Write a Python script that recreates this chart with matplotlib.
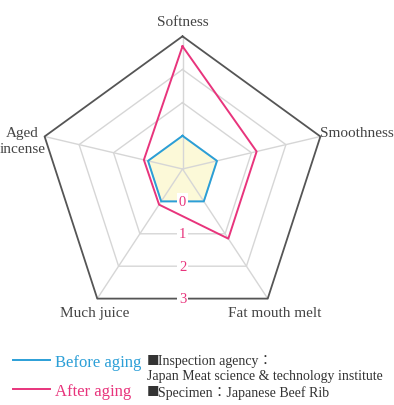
import numpy as np
import matplotlib.pyplot as plt

categories = ["Softness", "Smoothness", "Fat mouth melt", "Much juice", "Aged\nincense"]
before_aging = [0, 0, 0, 0, 0]
after_aging = [2.7, 1.15, 1.15, 0.1, 0.12]
levels = [0, 1, 2, 3]
level_labels = ["0", "1", "2", "3"]
series_names = ["Before aging", "After aging"]
notes = ["■Inspection agency：",
         "Japan Meat science & technology institute",
         "■Specimen：Japanese Beef Rib"]

blue = "#2b9fd7"
pink = "#e8347c"
serif = ["Liberation Serif", "Noto Sans CJK JP"]

v_min, v_max = -1, 3
angles = np.deg2rad(90 - 72 * np.arange(5))
# spokes meet a little above the middle of the outer pentagon
hub = np.array([0.0, 0.085])


def to_xy(values, ang=angles):
    s = (np.asarray(values, float) - v_min) / (v_max - v_min)
    x = hub[0] + s * (np.cos(ang) - hub[0])
    y = hub[1] + s * (np.sin(ang) - hub[1])
    return x, y


def closed(x, y):
    return np.append(x, x[0]), np.append(y, y[0])


fig = plt.figure(figsize=(3.94, 4.06), dpi=100)
ax = fig.add_axes([0, 0, 1, 1])
ax.set_xlim(-182.5 / 145, (394 - 182.5) / 145)
ax.set_ylim(-(406 - 182.3) / 145, 182.3 / 145)
ax.axis("off")

# grid
for lv in levels:
    x, y = closed(*to_xy([lv] * 5))
    if lv == levels[-1]:
        ax.plot(x, y, color="#555555", lw=1.3, zorder=2)
    else:
        ax.plot(x, y, color="#d6d6d6", lw=1.0, zorder=1)
for a in angles:
    x, y = to_xy([v_min, v_max], a)
    ax.plot(x, y, color="#d6d6d6", lw=1.0, zorder=1)

# data
bx, by = closed(*to_xy(before_aging))
ax.fill(bx, by, color="#fcf9d8", zorder=0)
l1, = ax.plot(bx, by, color=blue, lw=1.4, zorder=3)
px, py = closed(*to_xy(after_aging))
l2, = ax.plot(px, py, color=pink, lw=1.4, zorder=4)

# level numbers on the bottom edge
bottom_mid = -np.cos(np.deg2rad(36))
for lv, lab in zip(levels, level_labels):
    s = (lv - v_min) / (v_max - v_min)
    y = hub[1] + s * (bottom_mid - hub[1])
    ax.text(0, y, lab, color=pink, ha="center", va="center", fontsize=10.5,
            family=serif, zorder=5,
            bbox=dict(boxstyle="square,pad=0.15", fc="white", ec="none"))

# category labels
offsets = [((0, 11), "center", "center"),
           ((0, 3), "left", "center"),
           ((5, -10), "center", "center"),
           ((-2, -10), "center", "center"),
           ((-16, -3), "center", "center")]
vx, vy = to_xy([v_max] * 5)
for name, x, y, (off, ha, va) in zip(categories, vx, vy, offsets):
    ax.annotate(name, (x, y), xytext=off, textcoords="offset points",
                ha=ha, va=va, fontsize=11, color="#444444", family=serif,
                linespacing=1.25)

# legend
ax.legend([l1, l2], series_names, loc="upper left",
          bbox_to_anchor=(13 / 394, 1 - 355 / 406), bbox_transform=fig.transFigure,
          frameon=False, labelcolor="linecolor", handlelength=2.2,
          handletextpad=0.3, labelspacing=0.78, borderpad=0, borderaxespad=0,
          prop={"family": serif, "size": 12})

for txt, ypix in zip(notes, [362, 377, 393]):
    x0 = 147
    if txt.startswith("■"):
        fig.text(x0 / 394, 1 - ypix / 406, "■", ha="left", va="center",
                 fontsize=9, color="#333333", family="Noto Sans CJK JP")
        txt = txt[1:]
        x0 = 158
    fig.text(x0 / 394, 1 - ypix / 406, txt, ha="left", va="center",
             fontsize=10, color="#333333", family=serif)

fig.savefig("out.png", dpi=100)
